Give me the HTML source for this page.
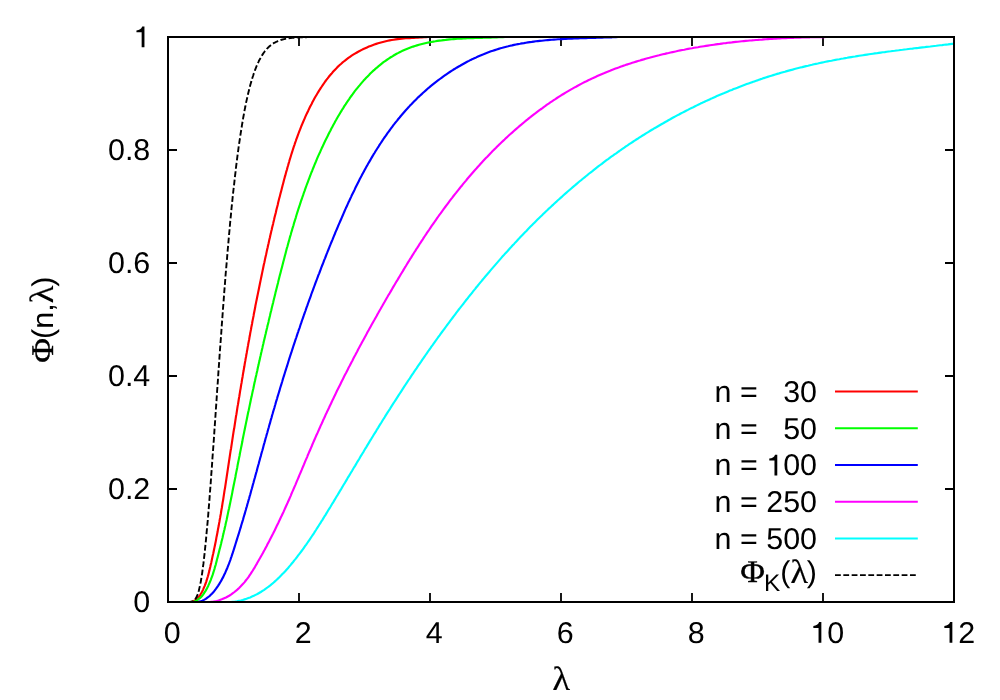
<!DOCTYPE html>
<html><head><meta charset="utf-8"><title>plot</title>
<style>html,body{margin:0;padding:0;background:#fff}svg{display:block}text{font-family:"Liberation Sans",sans-serif;font-size:30px;fill:#000;text-rendering:geometricPrecision;white-space:pre}.sym{font-family:"Liberation Serif",serif;stroke:#000;stroke-width:0.4px}.lam{stroke-width:0.12px}</style></head><body>
<svg width="1000" height="700" viewBox="0 0 1000 700" style="will-change:transform">
<path d="M299.0 602.0 V593.0 M299.0 37.0 V46.0 M430.0 602.0 V593.0 M430.0 37.0 V46.0 M561.0 602.0 V593.0 M561.0 37.0 V46.0 M692.0 602.0 V593.0 M692.0 37.0 V46.0 M823.0 602.0 V593.0 M823.0 37.0 V46.0 M168.0 489.0 H177.0 M954.0 489.0 H945.0 M168.0 376.0 H177.0 M954.0 376.0 H945.0 M168.0 263.0 H177.0 M954.0 263.0 H945.0 M168.0 150.0 H177.0 M954.0 150.0 H945.0 " stroke="#000" stroke-width="1.8" fill="none"/>
<clipPath id="box"><rect x="168.0" y="36.0" width="786.0" height="567.0"/></clipPath>
<g fill="none" stroke-width="2.15" stroke-linejoin="round" stroke-linecap="butt" clip-path="url(#box)">
<path d="M190.6 602.0 L192.6 601.6 L194.4 600.8 L196.0 599.7 L197.6 598.3 L198.9 596.8 L200.1 595.1 L201.2 593.3 L202.2 591.5 L203.1 589.6 L203.9 587.7 L204.7 585.8 L205.4 584.0 L206.1 582.1 L206.7 580.1 L207.3 578.2 L207.9 576.3 L208.4 574.4 L208.9 572.5 L209.4 570.6 L209.8 568.7 L210.3 566.7 L210.7 564.8 L211.2 562.9 L211.6 561.0 L212.0 559.0 L212.4 557.1 L212.8 555.2 L213.3 553.2 L213.7 551.3 L214.1 549.3 L214.5 547.4 L214.9 545.5 L215.3 543.5 L215.7 541.6 L216.1 539.6 L216.4 537.6 L216.8 535.7 L217.2 533.7 L217.6 531.8 L217.9 529.8 L218.3 527.8 L218.7 525.8 L219.0 523.9 L219.4 521.9 L219.7 519.9 L220.1 517.9 L220.4 516.0 L220.8 514.0 L221.1 512.0 L221.4 510.0 L221.8 508.0 L222.1 506.0 L222.4 504.1 L222.7 502.1 L223.1 500.1 L223.4 498.1 L223.7 496.1 L224.0 494.1 L224.3 492.1 L224.6 490.1 L225.0 488.1 L225.3 486.1 L225.6 484.1 L225.9 482.1 L226.2 480.1 L226.5 478.1 L226.8 476.1 L227.1 474.1 L227.4 472.1 L227.7 470.1 L228.0 468.1 L228.3 466.1 L228.6 464.1 L228.9 462.1 L229.2 460.1 L229.5 458.1 L229.8 456.2 L230.1 454.2 L230.4 452.2 L230.7 450.2 L231.1 448.2 L231.4 446.2 L231.7 444.2 L232.0 442.2 L232.3 440.2 L232.6 438.2 L232.9 436.2 L233.2 434.2 L233.5 432.2 L233.8 430.3 L234.2 428.3 L234.5 426.3 L234.8 424.3 L235.1 422.3 L235.4 420.3 L235.7 418.3 L236.0 416.3 L236.4 414.4 L236.7 412.4 L237.0 410.4 L237.3 408.4 L237.6 406.4 L238.0 404.4 L238.3 402.5 L238.6 400.5 L238.9 398.5 L239.3 396.5 L239.6 394.5 L239.9 392.6 L240.2 390.6 L240.6 388.6 L240.9 386.6 L241.2 384.6 L241.6 382.7 L241.9 380.7 L242.2 378.7 L242.6 376.7 L242.9 374.7 L243.2 372.8 L243.6 370.8 L243.9 368.8 L244.3 366.8 L244.6 364.9 L244.9 362.9 L245.3 360.9 L245.6 358.9 L246.0 357.0 L246.3 355.0 L246.7 353.0 L247.0 351.1 L247.4 349.1 L247.7 347.1 L248.1 345.2 L248.4 343.2 L248.8 341.2 L249.2 339.2 L249.5 337.3 L249.9 335.3 L250.2 333.3 L250.6 331.4 L251.0 329.4 L251.3 327.4 L251.7 325.5 L252.1 323.5 L252.4 321.5 L252.8 319.6 L253.2 317.6 L253.6 315.7 L253.9 313.7 L254.3 311.7 L254.7 309.8 L255.1 307.8 L255.4 305.8 L255.8 303.9 L256.2 301.9 L256.6 300.0 L257.0 298.0 L257.4 296.0 L257.8 294.1 L258.2 292.1 L258.6 290.2 L259.0 288.2 L259.4 286.3 L259.8 284.3 L260.2 282.3 L260.6 280.4 L261.0 278.4 L261.4 276.5 L261.8 274.5 L262.2 272.6 L262.6 270.6 L263.0 268.7 L263.4 266.7 L263.8 264.8 L264.3 262.8 L264.7 260.9 L265.1 258.9 L265.5 257.0 L266.0 255.0 L266.4 253.1 L266.8 251.1 L267.2 249.2 L267.7 247.2 L268.1 245.3 L268.6 243.3 L269.0 241.4 L269.4 239.4 L269.9 237.5 L270.3 235.5 L270.8 233.6 L271.2 231.6 L271.7 229.7 L272.1 227.7 L272.6 225.8 L273.1 223.9 L273.5 221.9 L274.0 220.0 L274.4 218.0 L274.9 216.1 L275.4 214.2 L275.9 212.2 L276.3 210.3 L276.8 208.3 L277.3 206.4 L277.8 204.5 L278.2 202.5 L278.7 200.6 L279.2 198.6 L279.7 196.7 L280.2 194.8 L280.7 192.8 L281.2 190.9 L281.7 189.0 L282.2 187.0 L282.7 185.1 L283.2 183.2 L283.7 181.2 L284.2 179.3 L284.7 177.4 L285.3 175.4 L285.8 173.5 L286.3 171.6 L286.9 169.7 L287.4 167.7 L288.0 165.8 L288.5 163.9 L289.1 162.0 L289.6 160.1 L290.2 158.2 L290.8 156.2 L291.4 154.3 L292.0 152.4 L292.6 150.5 L293.2 148.6 L293.8 146.7 L294.5 144.8 L295.1 142.9 L295.8 141.0 L296.4 139.1 L297.1 137.3 L297.8 135.4 L298.5 133.5 L299.2 131.6 L300.0 129.7 L300.7 127.9 L301.4 126.0 L302.2 124.1 L303.0 122.3 L303.8 120.4 L304.6 118.6 L305.4 116.7 L306.2 114.9 L307.1 113.0 L308.0 111.2 L308.8 109.4 L309.7 107.6 L310.6 105.7 L311.6 103.9 L312.5 102.1 L313.5 100.3 L314.4 98.6 L315.4 96.8 L316.5 95.0 L317.5 93.3 L318.5 91.6 L319.6 89.8 L320.7 88.1 L321.8 86.5 L322.9 84.8 L324.1 83.2 L325.2 81.5 L326.4 79.9 L327.6 78.4 L328.8 76.8 L330.1 75.3 L331.4 73.8 L332.6 72.3 L334.0 70.8 L335.3 69.4 L336.7 68.0 L338.0 66.6 L339.4 65.3 L340.9 64.0 L342.3 62.7 L343.8 61.5 L345.3 60.3 L346.8 59.1 L348.4 57.9 L350.0 56.8 L351.6 55.7 L353.2 54.7 L354.9 53.6 L356.5 52.7 L358.2 51.7 L360.0 50.8 L361.7 49.9 L363.4 49.0 L365.2 48.2 L367.0 47.4 L368.8 46.6 L370.6 45.9 L372.5 45.2 L374.3 44.5 L376.2 43.9 L378.1 43.3 L380.0 42.7 L381.9 42.2 L383.9 41.7 L385.8 41.2 L387.8 40.8 L389.7 40.4 L391.7 40.0 L393.7 39.7 L395.7 39.4 L397.7 39.1 L399.7 38.9 L401.7 38.7 L403.7 38.5 L405.7 38.3 L407.7 38.2 L409.8 38.1 L411.8 38.0 L413.8 37.9 L415.8 37.8 L417.9 37.7 L419.9 37.5 L421.9 37.4 L424.0 37.3 L426.0 37.2 L428.0 37.0" stroke="#ff0000"/>
<path d="M191.5 602.0 L193.6 601.7 L195.4 601.0 L197.2 600.1 L198.8 599.0 L200.4 597.7 L201.8 596.2 L203.1 594.6 L204.2 592.9 L205.4 591.1 L206.4 589.4 L207.4 587.5 L208.3 585.7 L209.1 583.8 L209.9 582.0 L210.7 580.1 L211.4 578.2 L212.1 576.3 L212.8 574.4 L213.4 572.4 L214.0 570.5 L214.6 568.6 L215.1 566.6 L215.7 564.7 L216.2 562.7 L216.7 560.8 L217.2 558.8 L217.7 556.9 L218.2 555.0 L218.7 553.0 L219.2 551.1 L219.7 549.1 L220.2 547.2 L220.7 545.2 L221.2 543.3 L221.6 541.3 L222.1 539.4 L222.6 537.5 L223.0 535.5 L223.5 533.6 L223.9 531.6 L224.4 529.7 L224.8 527.7 L225.3 525.8 L225.7 523.8 L226.1 521.9 L226.6 519.9 L227.0 518.0 L227.4 516.0 L227.8 514.1 L228.2 512.1 L228.6 510.2 L229.1 508.2 L229.5 506.3 L229.9 504.3 L230.3 502.4 L230.7 500.4 L231.1 498.5 L231.5 496.5 L231.9 494.6 L232.3 492.6 L232.6 490.7 L233.0 488.7 L233.4 486.8 L233.8 484.8 L234.2 482.9 L234.6 480.9 L235.0 479.0 L235.4 477.0 L235.7 475.0 L236.1 473.1 L236.5 471.1 L236.9 469.2 L237.3 467.2 L237.6 465.3 L238.0 463.3 L238.4 461.3 L238.8 459.4 L239.2 457.4 L239.6 455.5 L239.9 453.5 L240.3 451.6 L240.7 449.6 L241.1 447.6 L241.5 445.7 L241.9 443.7 L242.3 441.8 L242.6 439.8 L243.0 437.8 L243.4 435.9 L243.8 433.9 L244.2 431.9 L244.6 430.0 L245.0 428.0 L245.4 426.0 L245.8 424.1 L246.2 422.1 L246.6 420.2 L247.0 418.2 L247.4 416.2 L247.8 414.3 L248.2 412.3 L248.7 410.3 L249.1 408.4 L249.5 406.4 L249.9 404.4 L250.3 402.5 L250.7 400.5 L251.1 398.5 L251.6 396.6 L252.0 394.6 L252.4 392.6 L252.8 390.7 L253.3 388.7 L253.7 386.7 L254.1 384.8 L254.5 382.8 L255.0 380.8 L255.4 378.8 L255.8 376.9 L256.3 374.9 L256.7 372.9 L257.2 371.0 L257.6 369.0 L258.0 367.0 L258.5 365.1 L258.9 363.1 L259.4 361.1 L259.8 359.2 L260.2 357.2 L260.7 355.3 L261.1 353.3 L261.6 351.3 L262.0 349.4 L262.5 347.4 L262.9 345.4 L263.4 343.5 L263.8 341.5 L264.3 339.5 L264.8 337.6 L265.2 335.6 L265.7 333.7 L266.1 331.7 L266.6 329.7 L267.1 327.8 L267.5 325.8 L268.0 323.9 L268.5 321.9 L268.9 319.9 L269.4 318.0 L269.9 316.0 L270.3 314.1 L270.8 312.1 L271.3 310.2 L271.7 308.2 L272.2 306.3 L272.7 304.3 L273.2 302.4 L273.6 300.4 L274.1 298.5 L274.6 296.5 L275.1 294.6 L275.5 292.6 L276.0 290.7 L276.5 288.7 L277.0 286.8 L277.5 284.8 L278.0 282.9 L278.4 281.0 L278.9 279.0 L279.4 277.1 L279.9 275.1 L280.4 273.2 L280.9 271.3 L281.4 269.3 L281.9 267.4 L282.4 265.5 L282.9 263.5 L283.4 261.6 L283.9 259.7 L284.4 257.7 L284.9 255.8 L285.4 253.9 L285.9 252.0 L286.4 250.0 L286.9 248.1 L287.5 246.2 L288.0 244.3 L288.5 242.4 L289.1 240.4 L289.6 238.5 L290.1 236.6 L290.7 234.7 L291.2 232.8 L291.8 230.9 L292.3 229.0 L292.9 227.1 L293.5 225.2 L294.0 223.3 L294.6 221.4 L295.2 219.5 L295.8 217.6 L296.3 215.7 L296.9 213.8 L297.5 211.9 L298.1 210.0 L298.7 208.1 L299.4 206.2 L300.0 204.3 L300.6 202.4 L301.2 200.5 L301.9 198.7 L302.5 196.8 L303.2 194.9 L303.8 193.0 L304.5 191.1 L305.1 189.3 L305.8 187.4 L306.5 185.5 L307.2 183.7 L307.9 181.8 L308.6 179.9 L309.3 178.1 L310.0 176.2 L310.7 174.4 L311.4 172.5 L312.2 170.7 L312.9 168.8 L313.7 167.0 L314.4 165.1 L315.2 163.3 L316.0 161.4 L316.7 159.6 L317.5 157.7 L318.3 155.9 L319.1 154.1 L320.0 152.2 L320.8 150.4 L321.6 148.6 L322.5 146.8 L323.3 144.9 L324.2 143.1 L325.0 141.3 L325.9 139.5 L326.8 137.7 L327.7 135.9 L328.6 134.0 L329.5 132.2 L330.5 130.4 L331.4 128.6 L332.3 126.9 L333.3 125.1 L334.3 123.3 L335.2 121.5 L336.2 119.8 L337.2 118.0 L338.2 116.3 L339.3 114.5 L340.3 112.8 L341.3 111.1 L342.4 109.3 L343.5 107.6 L344.5 105.9 L345.6 104.3 L346.7 102.6 L347.9 100.9 L349.0 99.3 L350.1 97.6 L351.3 96.0 L352.5 94.4 L353.6 92.8 L354.8 91.2 L356.0 89.7 L357.3 88.1 L358.5 86.6 L359.8 85.1 L361.0 83.6 L362.3 82.1 L363.6 80.6 L364.9 79.2 L366.2 77.8 L367.6 76.4 L369.0 75.0 L370.3 73.6 L371.7 72.2 L373.1 70.9 L374.6 69.6 L376.0 68.3 L377.5 67.1 L379.0 65.8 L380.5 64.6 L382.0 63.4 L383.5 62.2 L385.1 61.1 L386.7 60.0 L388.3 58.9 L389.9 57.8 L391.6 56.8 L393.2 55.8 L394.9 54.8 L396.6 53.8 L398.4 52.9 L400.1 52.0 L401.9 51.1 L403.7 50.3 L405.5 49.5 L407.4 48.7 L409.2 48.0 L411.1 47.3 L413.1 46.6 L415.0 46.0 L417.0 45.4 L419.0 44.8 L421.0 44.2 L423.0 43.7 L425.1 43.2 L427.1 42.8 L429.2 42.4 L431.2 42.0 L433.3 41.6 L435.4 41.3 L437.4 40.9 L439.5 40.6 L441.6 40.4 L443.6 40.1 L445.7 39.9 L447.7 39.6 L449.7 39.4 L451.7 39.3 L453.7 39.1 L455.7 38.9 L457.6 38.8 L459.6 38.7 L461.5 38.6 L463.5 38.5 L465.4 38.4 L467.3 38.3 L469.2 38.2 L471.2 38.1 L473.1 38.1 L475.0 38.0 L476.9 37.9 L478.9 37.9 L480.8 37.8 L482.7 37.8 L484.7 37.7 L486.7 37.7 L488.6 37.6 L490.6 37.6 L492.6 37.5 L494.6 37.4 L496.7 37.4 L498.7 37.3 L500.8 37.2 L502.9 37.1 L505.0 37.0" stroke="#00ff00"/>
<path d="M196.5 602.0 L198.5 601.8 L200.4 601.4 L202.3 600.7 L204.0 599.9 L205.8 598.9 L207.4 597.7 L209.0 596.5 L210.5 595.1 L211.9 593.7 L213.3 592.2 L214.6 590.6 L215.9 588.9 L217.0 587.3 L218.2 585.6 L219.3 583.9 L220.3 582.2 L221.4 580.4 L222.3 578.6 L223.3 576.9 L224.1 575.0 L225.0 573.2 L225.8 571.4 L226.6 569.5 L227.4 567.7 L228.1 565.8 L228.9 563.9 L229.6 562.0 L230.3 560.1 L230.9 558.2 L231.6 556.3 L232.2 554.4 L232.9 552.4 L233.5 550.5 L234.1 548.6 L234.7 546.6 L235.3 544.7 L235.9 542.8 L236.5 540.9 L237.1 538.9 L237.7 537.0 L238.3 535.1 L238.9 533.2 L239.5 531.2 L240.1 529.3 L240.7 527.4 L241.2 525.5 L241.8 523.5 L242.4 521.6 L243.0 519.7 L243.5 517.7 L244.1 515.8 L244.7 513.9 L245.2 512.0 L245.8 510.0 L246.3 508.1 L246.9 506.2 L247.4 504.2 L248.0 502.3 L248.5 500.4 L249.1 498.5 L249.6 496.5 L250.2 494.6 L250.7 492.7 L251.2 490.7 L251.8 488.8 L252.3 486.9 L252.8 485.0 L253.4 483.0 L253.9 481.1 L254.4 479.2 L255.0 477.3 L255.5 475.3 L256.0 473.4 L256.6 471.5 L257.1 469.5 L257.6 467.6 L258.1 465.7 L258.7 463.8 L259.2 461.8 L259.7 459.9 L260.2 458.0 L260.8 456.1 L261.3 454.1 L261.8 452.2 L262.4 450.3 L262.9 448.4 L263.4 446.5 L263.9 444.5 L264.5 442.6 L265.0 440.7 L265.5 438.8 L266.1 436.8 L266.6 434.9 L267.2 433.0 L267.7 431.1 L268.2 429.2 L268.8 427.2 L269.3 425.3 L269.9 423.4 L270.4 421.5 L270.9 419.6 L271.5 417.7 L272.0 415.7 L272.6 413.8 L273.1 411.9 L273.7 410.0 L274.3 408.1 L274.8 406.2 L275.4 404.3 L275.9 402.3 L276.5 400.4 L277.1 398.5 L277.6 396.6 L278.2 394.7 L278.8 392.8 L279.4 390.9 L279.9 389.0 L280.5 387.0 L281.1 385.1 L281.7 383.2 L282.3 381.3 L282.8 379.4 L283.4 377.5 L284.0 375.6 L284.6 373.7 L285.2 371.8 L285.8 369.9 L286.4 368.0 L287.0 366.1 L287.6 364.2 L288.2 362.2 L288.8 360.3 L289.4 358.4 L290.0 356.5 L290.6 354.6 L291.3 352.7 L291.9 350.8 L292.5 348.9 L293.1 347.0 L293.7 345.1 L294.4 343.2 L295.0 341.3 L295.6 339.4 L296.3 337.5 L296.9 335.6 L297.5 333.7 L298.2 331.8 L298.8 329.9 L299.5 328.1 L300.1 326.2 L300.7 324.3 L301.4 322.4 L302.0 320.5 L302.7 318.6 L303.4 316.7 L304.0 314.8 L304.7 312.9 L305.4 311.0 L306.0 309.1 L306.7 307.2 L307.4 305.4 L308.0 303.5 L308.7 301.6 L309.4 299.7 L310.1 297.8 L310.8 295.9 L311.4 294.0 L312.1 292.1 L312.8 290.3 L313.5 288.4 L314.2 286.5 L314.9 284.6 L315.6 282.7 L316.3 280.9 L317.0 279.0 L317.7 277.1 L318.4 275.2 L319.2 273.3 L319.9 271.5 L320.6 269.6 L321.3 267.7 L322.0 265.8 L322.8 264.0 L323.5 262.1 L324.2 260.2 L325.0 258.3 L325.7 256.5 L326.4 254.6 L327.2 252.7 L327.9 250.9 L328.7 249.0 L329.4 247.1 L330.2 245.2 L330.9 243.4 L331.7 241.5 L332.5 239.6 L333.2 237.8 L334.0 235.9 L334.8 234.0 L335.5 232.2 L336.3 230.3 L337.1 228.5 L337.9 226.6 L338.7 224.7 L339.5 222.9 L340.3 221.0 L341.1 219.2 L341.9 217.3 L342.7 215.5 L343.5 213.6 L344.3 211.8 L345.1 209.9 L345.9 208.1 L346.8 206.3 L347.6 204.4 L348.4 202.6 L349.3 200.8 L350.1 199.0 L351.0 197.1 L351.8 195.3 L352.7 193.5 L353.6 191.7 L354.5 189.9 L355.3 188.1 L356.2 186.3 L357.1 184.5 L358.0 182.7 L358.9 180.9 L359.8 179.1 L360.8 177.3 L361.7 175.6 L362.6 173.8 L363.6 172.0 L364.5 170.3 L365.5 168.5 L366.4 166.8 L367.4 165.1 L368.4 163.3 L369.4 161.6 L370.4 159.9 L371.4 158.1 L372.4 156.4 L373.4 154.7 L374.5 153.0 L375.5 151.3 L376.5 149.7 L377.6 148.0 L378.7 146.3 L379.7 144.6 L380.8 143.0 L381.9 141.3 L383.0 139.7 L384.1 138.0 L385.3 136.4 L386.4 134.8 L387.5 133.2 L388.7 131.6 L389.9 130.0 L391.0 128.4 L392.2 126.8 L393.4 125.2 L394.6 123.7 L395.8 122.1 L397.1 120.6 L398.3 119.0 L399.6 117.5 L400.8 116.0 L402.1 114.5 L403.4 113.0 L404.7 111.5 L406.0 110.0 L407.4 108.5 L408.7 107.1 L410.0 105.6 L411.4 104.2 L412.8 102.7 L414.2 101.3 L415.6 99.9 L417.0 98.5 L418.4 97.1 L419.9 95.7 L421.4 94.4 L422.8 93.0 L424.3 91.7 L425.8 90.4 L427.3 89.0 L428.9 87.7 L430.4 86.4 L431.9 85.2 L433.5 83.9 L435.1 82.6 L436.7 81.4 L438.3 80.2 L439.9 79.0 L441.5 77.8 L443.1 76.6 L444.8 75.4 L446.4 74.3 L448.1 73.1 L449.8 72.0 L451.5 70.9 L453.2 69.8 L454.9 68.8 L456.6 67.7 L458.3 66.7 L460.1 65.7 L461.8 64.7 L463.6 63.7 L465.4 62.7 L467.1 61.8 L468.9 60.9 L470.7 59.9 L472.5 59.1 L474.3 58.2 L476.2 57.4 L478.0 56.5 L479.8 55.7 L481.7 54.9 L483.5 54.2 L485.4 53.4 L487.2 52.7 L489.1 52.0 L491.0 51.3 L492.9 50.7 L494.8 50.1 L496.7 49.5 L498.6 48.9 L500.5 48.3 L502.4 47.8 L504.4 47.2 L506.3 46.7 L508.2 46.3 L510.2 45.8 L512.1 45.4 L514.1 44.9 L516.0 44.5 L518.0 44.1 L520.0 43.8 L521.9 43.4 L523.9 43.1 L525.9 42.7 L527.9 42.4 L529.8 42.1 L531.8 41.9 L533.8 41.6 L535.8 41.3 L537.8 41.1 L539.8 40.9 L541.8 40.7 L543.8 40.5 L545.8 40.3 L547.8 40.1 L549.8 39.9 L551.9 39.8 L553.9 39.6 L555.9 39.5 L557.9 39.3 L559.9 39.2 L561.9 39.1 L564.0 39.0 L566.0 38.9 L568.0 38.8 L570.0 38.7 L572.0 38.6 L574.0 38.5 L576.1 38.4 L578.1 38.4 L580.1 38.3 L582.1 38.2 L584.1 38.2 L586.1 38.1 L588.1 38.0 L590.1 38.0 L592.1 37.9 L594.2 37.8 L596.2 37.8 L598.2 37.7 L600.2 37.7 L602.1 37.6 L604.1 37.5 L606.1 37.5 L608.1 37.4 L610.1 37.3 L612.1 37.3 L614.1 37.2 L616.0 37.1 L618.0 37.0" stroke="#0000ff"/>
<path d="M206.5 602.0 L208.5 602.0 L210.6 601.9 L212.6 601.7 L214.6 601.4 L216.6 601.0 L218.5 600.5 L220.5 599.8 L222.4 599.1 L224.2 598.3 L226.0 597.5 L227.8 596.5 L229.6 595.5 L231.3 594.4 L232.9 593.2 L234.5 592.0 L236.1 590.7 L237.6 589.4 L239.1 588.0 L240.5 586.6 L241.9 585.1 L243.3 583.6 L244.6 582.1 L245.8 580.5 L247.1 578.9 L248.3 577.3 L249.4 575.6 L250.6 573.9 L251.7 572.2 L252.8 570.5 L253.8 568.8 L254.9 567.1 L255.9 565.3 L256.9 563.6 L257.9 561.8 L258.9 560.0 L259.9 558.3 L260.9 556.5 L261.9 554.8 L262.9 553.0 L263.8 551.2 L264.8 549.5 L265.7 547.7 L266.7 545.9 L267.6 544.1 L268.5 542.4 L269.5 540.6 L270.4 538.8 L271.3 537.0 L272.2 535.2 L273.1 533.5 L274.0 531.7 L274.9 529.9 L275.8 528.1 L276.6 526.3 L277.5 524.5 L278.4 522.7 L279.2 520.9 L280.1 519.1 L280.9 517.3 L281.8 515.5 L282.6 513.7 L283.5 511.9 L284.3 510.1 L285.1 508.3 L285.9 506.5 L286.7 504.7 L287.6 502.8 L288.4 501.0 L289.2 499.2 L290.0 497.4 L290.8 495.6 L291.5 493.7 L292.3 491.9 L293.1 490.1 L293.9 488.3 L294.7 486.4 L295.5 484.6 L296.2 482.8 L297.0 480.9 L297.8 479.1 L298.6 477.3 L299.3 475.4 L300.1 473.6 L300.9 471.8 L301.7 469.9 L302.4 468.1 L303.2 466.3 L304.0 464.4 L304.7 462.6 L305.5 460.7 L306.3 458.9 L307.1 457.1 L307.8 455.2 L308.6 453.4 L309.4 451.5 L310.2 449.7 L311.0 447.9 L311.8 446.0 L312.5 444.2 L313.3 442.4 L314.1 440.5 L314.9 438.7 L315.7 436.8 L316.5 435.0 L317.4 433.2 L318.2 431.3 L319.0 429.5 L319.8 427.7 L320.6 425.8 L321.5 424.0 L322.3 422.2 L323.1 420.3 L324.0 418.5 L324.8 416.7 L325.6 414.8 L326.5 413.0 L327.3 411.2 L328.2 409.4 L329.1 407.5 L329.9 405.7 L330.8 403.9 L331.7 402.1 L332.5 400.2 L333.4 398.4 L334.3 396.6 L335.2 394.8 L336.0 392.9 L336.9 391.1 L337.8 389.3 L338.7 387.5 L339.6 385.7 L340.5 383.9 L341.4 382.0 L342.3 380.2 L343.2 378.4 L344.1 376.6 L345.0 374.8 L346.0 373.0 L346.9 371.2 L347.8 369.4 L348.7 367.6 L349.7 365.8 L350.6 364.0 L351.5 362.2 L352.5 360.4 L353.4 358.6 L354.3 356.8 L355.3 355.0 L356.2 353.2 L357.2 351.4 L358.1 349.6 L359.1 347.8 L360.0 346.1 L361.0 344.3 L361.9 342.5 L362.9 340.7 L363.9 338.9 L364.8 337.2 L365.8 335.4 L366.8 333.6 L367.7 331.8 L368.7 330.1 L369.7 328.3 L370.7 326.5 L371.6 324.8 L372.6 323.0 L373.6 321.2 L374.6 319.5 L375.6 317.7 L376.6 316.0 L377.5 314.2 L378.5 312.5 L379.5 310.7 L380.5 309.0 L381.5 307.2 L382.5 305.5 L383.5 303.7 L384.5 302.0 L385.5 300.2 L386.5 298.5 L387.5 296.8 L388.5 295.0 L389.6 293.3 L390.6 291.6 L391.6 289.9 L392.6 288.1 L393.6 286.4 L394.6 284.7 L395.6 283.0 L396.6 281.3 L397.7 279.6 L398.7 277.9 L399.7 276.2 L400.7 274.5 L401.8 272.7 L402.8 271.1 L403.8 269.4 L404.8 267.7 L405.9 266.0 L406.9 264.3 L407.9 262.6 L409.0 260.9 L410.0 259.2 L411.1 257.6 L412.1 255.9 L413.2 254.2 L414.2 252.5 L415.3 250.9 L416.3 249.2 L417.4 247.6 L418.5 245.9 L419.5 244.2 L420.6 242.6 L421.7 240.9 L422.8 239.3 L423.8 237.6 L424.9 236.0 L426.0 234.4 L427.1 232.7 L428.2 231.1 L429.3 229.5 L430.4 227.8 L431.5 226.2 L432.6 224.6 L433.8 223.0 L434.9 221.4 L436.0 219.8 L437.1 218.2 L438.3 216.5 L439.4 214.9 L440.6 213.4 L441.7 211.8 L442.9 210.2 L444.0 208.6 L445.2 207.0 L446.4 205.4 L447.6 203.8 L448.7 202.3 L449.9 200.7 L451.1 199.1 L452.3 197.6 L453.5 196.0 L454.8 194.4 L456.0 192.9 L457.2 191.3 L458.4 189.8 L459.7 188.2 L460.9 186.7 L462.2 185.2 L463.4 183.6 L464.7 182.1 L466.0 180.6 L467.2 179.0 L468.5 177.5 L469.8 176.0 L471.1 174.5 L472.4 173.0 L473.7 171.5 L475.0 170.0 L476.4 168.5 L477.7 167.0 L479.1 165.5 L480.4 164.0 L481.8 162.5 L483.1 161.1 L484.5 159.6 L485.9 158.1 L487.3 156.7 L488.7 155.2 L490.1 153.7 L491.5 152.3 L492.9 150.8 L494.3 149.4 L495.8 148.0 L497.2 146.5 L498.7 145.1 L500.1 143.7 L501.6 142.3 L503.1 140.9 L504.6 139.5 L506.0 138.1 L507.5 136.7 L509.0 135.3 L510.5 134.0 L512.1 132.6 L513.6 131.2 L515.1 129.9 L516.6 128.6 L518.2 127.2 L519.7 125.9 L521.3 124.6 L522.8 123.3 L524.4 122.0 L526.0 120.7 L527.6 119.4 L529.1 118.1 L530.7 116.9 L532.3 115.6 L533.9 114.3 L535.6 113.1 L537.2 111.9 L538.8 110.7 L540.4 109.5 L542.1 108.3 L543.7 107.1 L545.4 105.9 L547.0 104.7 L548.7 103.6 L550.3 102.4 L552.0 101.3 L553.7 100.2 L555.4 99.1 L557.0 98.0 L558.7 96.9 L560.4 95.8 L562.1 94.7 L563.8 93.7 L565.6 92.6 L567.3 91.6 L569.0 90.6 L570.7 89.6 L572.5 88.6 L574.2 87.6 L576.0 86.7 L577.7 85.7 L579.5 84.8 L581.2 83.9 L583.0 82.9 L584.7 82.0 L586.5 81.2 L588.3 80.3 L590.1 79.4 L591.9 78.6 L593.7 77.7 L595.5 76.9 L597.3 76.1 L599.1 75.3 L600.9 74.5 L602.7 73.7 L604.5 73.0 L606.3 72.2 L608.2 71.5 L610.0 70.8 L611.8 70.0 L613.7 69.3 L615.5 68.6 L617.4 67.9 L619.2 67.3 L621.1 66.6 L622.9 65.9 L624.8 65.3 L626.7 64.6 L628.6 64.0 L630.4 63.4 L632.3 62.8 L634.2 62.2 L636.1 61.6 L638.0 61.0 L639.9 60.5 L641.8 59.9 L643.7 59.4 L645.6 58.8 L647.5 58.3 L649.4 57.8 L651.3 57.2 L653.2 56.7 L655.1 56.2 L657.1 55.7 L659.0 55.3 L660.9 54.8 L662.8 54.3 L664.8 53.9 L666.7 53.4 L668.6 53.0 L670.6 52.5 L672.5 52.1 L674.5 51.7 L676.4 51.3 L678.4 50.8 L680.3 50.4 L682.3 50.0 L684.3 49.7 L686.2 49.3 L688.2 48.9 L690.1 48.5 L692.1 48.2 L694.1 47.8 L696.0 47.5 L698.0 47.2 L700.0 46.8 L702.0 46.5 L704.0 46.2 L705.9 45.9 L707.9 45.6 L709.9 45.3 L711.9 45.0 L713.9 44.7 L715.9 44.4 L717.8 44.1 L719.8 43.9 L721.8 43.6 L723.8 43.3 L725.8 43.1 L727.8 42.8 L729.8 42.6 L731.8 42.4 L733.8 42.1 L735.8 41.9 L737.8 41.7 L739.8 41.5 L741.8 41.3 L743.8 41.1 L745.8 40.9 L747.8 40.7 L749.8 40.5 L751.8 40.4 L753.9 40.2 L755.9 40.0 L757.9 39.9 L759.9 39.7 L761.9 39.6 L763.9 39.4 L765.9 39.3 L767.9 39.1 L769.9 39.0 L771.9 38.9 L773.9 38.7 L775.9 38.6 L778.0 38.5 L780.0 38.4 L782.0 38.3 L784.0 38.2 L786.0 38.1 L788.0 38.0 L790.0 37.9 L792.0 37.8 L794.0 37.8 L796.0 37.7 L798.0 37.6 L800.0 37.6 L802.0 37.5 L804.0 37.4 L806.0 37.4 L808.0 37.3 L810.0 37.3 L812.0 37.2 L814.0 37.2 L816.0 37.2 L818.0 37.1 L820.0 37.1 L822.0 37.1 L824.0 37.1 L826.0 37.0 L828.0 37.0 L830.0 37.0" stroke="#ff00ff"/>
<path d="M228.8 602.0 L230.9 602.0 L232.9 601.8 L234.9 601.6 L236.9 601.3 L238.9 600.9 L240.8 600.5 L242.7 600.0 L244.6 599.4 L246.5 598.8 L248.4 598.1 L250.2 597.4 L252.0 596.6 L253.8 595.8 L255.6 594.9 L257.4 594.0 L259.1 593.0 L260.8 592.0 L262.5 590.9 L264.2 589.8 L265.8 588.7 L267.4 587.5 L269.0 586.3 L270.6 585.1 L272.1 583.8 L273.7 582.5 L275.2 581.1 L276.7 579.8 L278.1 578.4 L279.6 577.0 L281.0 575.6 L282.4 574.1 L283.8 572.7 L285.2 571.2 L286.5 569.7 L287.9 568.2 L289.2 566.6 L290.5 565.1 L291.8 563.5 L293.1 562.0 L294.3 560.4 L295.6 558.9 L296.8 557.3 L298.0 555.7 L299.2 554.2 L300.4 552.6 L301.6 551.0 L302.8 549.4 L303.9 547.8 L305.0 546.2 L306.2 544.6 L307.3 543.0 L308.4 541.4 L309.5 539.8 L310.6 538.2 L311.7 536.5 L312.8 534.9 L313.9 533.3 L314.9 531.6 L316.0 530.0 L317.0 528.3 L318.1 526.7 L319.1 525.0 L320.2 523.4 L321.2 521.7 L322.3 520.1 L323.3 518.4 L324.3 516.7 L325.4 515.1 L326.4 513.4 L327.4 511.7 L328.4 510.0 L329.5 508.3 L330.5 506.7 L331.5 505.0 L332.5 503.3 L333.6 501.6 L334.6 499.9 L335.6 498.2 L336.6 496.5 L337.7 494.8 L338.7 493.1 L339.7 491.4 L340.8 489.7 L341.8 487.9 L342.8 486.2 L343.8 484.5 L344.9 482.8 L345.9 481.1 L346.9 479.4 L347.9 477.6 L349.0 475.9 L350.0 474.2 L351.0 472.5 L352.1 470.8 L353.1 469.0 L354.1 467.3 L355.2 465.6 L356.2 463.9 L357.2 462.1 L358.3 460.4 L359.3 458.7 L360.3 456.9 L361.4 455.2 L362.4 453.5 L363.5 451.8 L364.5 450.0 L365.5 448.3 L366.6 446.6 L367.6 444.9 L368.7 443.1 L369.7 441.4 L370.8 439.7 L371.8 438.0 L372.9 436.2 L373.9 434.5 L375.0 432.8 L376.1 431.1 L377.1 429.3 L378.2 427.6 L379.2 425.9 L380.3 424.2 L381.4 422.5 L382.4 420.8 L383.5 419.0 L384.6 417.3 L385.6 415.6 L386.7 413.9 L387.8 412.2 L388.9 410.5 L390.0 408.8 L391.0 407.1 L392.1 405.4 L393.2 403.7 L394.3 402.0 L395.4 400.3 L396.5 398.6 L397.6 396.9 L398.7 395.2 L399.8 393.5 L400.9 391.8 L402.0 390.1 L403.1 388.4 L404.2 386.7 L405.3 385.0 L406.4 383.3 L407.5 381.7 L408.6 380.0 L409.8 378.3 L410.9 376.6 L412.0 374.9 L413.1 373.3 L414.2 371.6 L415.4 369.9 L416.5 368.3 L417.6 366.6 L418.8 364.9 L419.9 363.3 L421.1 361.6 L422.2 359.9 L423.3 358.3 L424.5 356.6 L425.6 355.0 L426.8 353.3 L427.9 351.7 L429.1 350.0 L430.3 348.4 L431.4 346.7 L432.6 345.1 L433.8 343.4 L434.9 341.8 L436.1 340.2 L437.3 338.5 L438.4 336.9 L439.6 335.3 L440.8 333.6 L442.0 332.0 L443.2 330.4 L444.4 328.8 L445.6 327.2 L446.8 325.5 L448.0 323.9 L449.2 322.3 L450.4 320.7 L451.6 319.1 L452.8 317.5 L454.0 315.9 L455.2 314.3 L456.4 312.7 L457.6 311.1 L458.8 309.5 L460.1 307.9 L461.3 306.3 L462.5 304.8 L463.8 303.2 L465.0 301.6 L466.2 300.0 L467.5 298.5 L468.7 296.9 L470.0 295.3 L471.2 293.8 L472.5 292.2 L473.7 290.6 L475.0 289.1 L476.2 287.5 L477.5 286.0 L478.8 284.4 L480.0 282.9 L481.3 281.4 L482.6 279.8 L483.8 278.3 L485.1 276.7 L486.4 275.2 L487.7 273.7 L489.0 272.2 L490.3 270.6 L491.6 269.1 L492.9 267.6 L494.2 266.1 L495.5 264.6 L496.8 263.1 L498.1 261.6 L499.4 260.1 L500.7 258.6 L502.0 257.1 L503.4 255.6 L504.7 254.1 L506.0 252.7 L507.4 251.2 L508.7 249.7 L510.0 248.2 L511.4 246.8 L512.7 245.3 L514.1 243.9 L515.4 242.4 L516.8 241.0 L518.1 239.5 L519.5 238.1 L520.9 236.6 L522.2 235.2 L523.6 233.7 L525.0 232.3 L526.4 230.9 L527.7 229.5 L529.1 228.0 L530.5 226.6 L531.9 225.2 L533.3 223.8 L534.7 222.4 L536.1 221.0 L537.5 219.6 L538.9 218.2 L540.4 216.8 L541.8 215.5 L543.2 214.1 L544.6 212.7 L546.1 211.3 L547.5 210.0 L548.9 208.6 L550.4 207.3 L551.8 205.9 L553.3 204.6 L554.7 203.2 L556.2 201.9 L557.6 200.5 L559.1 199.2 L560.6 197.9 L562.1 196.6 L563.5 195.2 L565.0 193.9 L566.5 192.6 L568.0 191.3 L569.5 190.0 L571.0 188.7 L572.5 187.4 L574.0 186.1 L575.5 184.9 L577.0 183.6 L578.5 182.3 L580.0 181.0 L581.6 179.8 L583.1 178.5 L584.6 177.3 L586.2 176.0 L587.7 174.8 L589.2 173.5 L590.8 172.3 L592.4 171.1 L593.9 169.9 L595.5 168.6 L597.0 167.4 L598.6 166.2 L600.2 165.0 L601.8 163.8 L603.3 162.6 L604.9 161.4 L606.5 160.2 L608.1 159.1 L609.7 157.9 L611.3 156.7 L612.9 155.6 L614.5 154.4 L616.2 153.3 L617.8 152.1 L619.4 151.0 L621.0 149.8 L622.7 148.7 L624.3 147.6 L625.9 146.4 L627.6 145.3 L629.2 144.2 L630.9 143.1 L632.6 142.0 L634.2 140.9 L635.9 139.8 L637.6 138.8 L639.2 137.7 L640.9 136.6 L642.6 135.5 L644.3 134.5 L646.0 133.4 L647.7 132.4 L649.4 131.3 L651.1 130.3 L652.8 129.3 L654.5 128.2 L656.3 127.2 L658.0 126.2 L659.7 125.2 L661.4 124.2 L663.2 123.2 L664.9 122.2 L666.7 121.2 L668.4 120.2 L670.2 119.3 L671.9 118.3 L673.7 117.3 L675.4 116.4 L677.2 115.4 L679.0 114.5 L680.7 113.5 L682.5 112.6 L684.3 111.7 L686.1 110.8 L687.9 109.9 L689.7 108.9 L691.5 108.0 L693.3 107.2 L695.1 106.3 L696.9 105.4 L698.7 104.5 L700.5 103.6 L702.3 102.8 L704.1 101.9 L705.9 101.1 L707.8 100.2 L709.6 99.4 L711.4 98.6 L713.3 97.7 L715.1 96.9 L716.9 96.1 L718.8 95.3 L720.6 94.5 L722.5 93.7 L724.3 93.0 L726.2 92.2 L728.0 91.4 L729.9 90.6 L731.8 89.9 L733.6 89.1 L735.5 88.4 L737.4 87.7 L739.2 86.9 L741.1 86.2 L743.0 85.5 L744.9 84.8 L746.7 84.1 L748.6 83.4 L750.5 82.7 L752.4 82.1 L754.3 81.4 L756.2 80.7 L758.1 80.1 L760.0 79.4 L761.9 78.8 L763.8 78.1 L765.7 77.5 L767.6 76.9 L769.5 76.3 L771.4 75.7 L773.3 75.1 L775.3 74.5 L777.2 73.9 L779.1 73.4 L781.0 72.8 L782.9 72.2 L784.9 71.7 L786.8 71.1 L788.7 70.6 L790.6 70.1 L792.6 69.6 L794.5 69.0 L796.4 68.5 L798.4 68.0 L800.3 67.5 L802.3 67.1 L804.2 66.6 L806.1 66.1 L808.1 65.7 L810.0 65.2 L812.0 64.8 L813.9 64.3 L815.9 63.9 L817.8 63.5 L819.8 63.0 L821.7 62.6 L823.7 62.2 L825.6 61.8 L827.6 61.4 L829.6 61.0 L831.5 60.7 L833.5 60.3 L835.5 59.9 L837.4 59.5 L839.4 59.2 L841.3 58.8 L843.3 58.5 L845.3 58.1 L847.2 57.8 L849.2 57.4 L851.2 57.1 L853.2 56.8 L855.1 56.5 L857.1 56.1 L859.1 55.8 L861.1 55.5 L863.0 55.2 L865.0 54.9 L867.0 54.6 L869.0 54.3 L870.9 54.0 L872.9 53.7 L874.9 53.4 L876.9 53.2 L878.8 52.9 L880.8 52.6 L882.8 52.3 L884.8 52.1 L886.8 51.8 L888.7 51.5 L890.7 51.3 L892.7 51.0 L894.7 50.8 L896.7 50.5 L898.7 50.3 L900.6 50.0 L902.6 49.8 L904.6 49.5 L906.6 49.3 L908.6 49.0 L910.5 48.8 L912.5 48.6 L914.5 48.3 L916.5 48.1 L918.5 47.9 L920.4 47.6 L922.4 47.4 L924.4 47.2 L926.4 46.9 L928.4 46.7 L930.3 46.5 L932.3 46.2 L934.3 46.0 L936.3 45.8 L938.2 45.5 L940.2 45.3 L942.2 45.1 L944.2 44.8 L946.1 44.6 L948.1 44.4 L950.1 44.1 L952.0 43.9 L954.0 43.7" stroke="#00ffff"/>
<path d="M187.7 602.0 L188.3 602.0 L189.0 602.0 L189.6 601.9 L190.3 601.9 L190.9 601.8 L191.6 601.7 L192.2 601.5 L192.9 601.3 L193.5 600.9 L194.2 600.4 L194.9 599.8 L195.5 598.9 L196.2 597.8 L196.8 596.5 L197.5 594.9 L198.1 593.0 L198.8 590.7 L199.4 588.1 L200.1 585.0 L200.8 581.6 L201.4 577.8 L202.1 573.6 L202.7 568.9 L203.4 563.9 L204.0 558.4 L204.7 552.5 L205.3 546.3 L206.0 539.6 L206.6 532.6 L207.3 525.3 L208.0 517.7 L208.6 509.8 L209.3 501.6 L209.9 493.1 L210.6 484.5 L211.2 475.6 L211.9 466.6 L212.5 457.5 L213.2 448.2 L213.9 438.8 L214.5 429.4 L215.2 419.9 L215.8 410.4 L216.5 400.9 L217.1 391.3 L217.8 381.9 L218.4 372.4 L219.1 363.0 L219.7 353.7 L220.4 344.4 L221.1 335.3 L221.7 326.3 L222.4 317.3 L223.0 308.6 L223.7 299.9 L224.3 291.4 L225.0 283.0 L225.6 274.8 L226.3 266.8 L227.0 258.9 L227.6 251.2 L228.3 243.6 L228.9 236.3 L229.6 229.1 L230.2 222.0 L230.9 215.2 L231.5 208.5 L232.2 202.0 L232.8 195.7 L233.5 189.5 L234.2 183.6 L234.8 177.8 L235.5 172.2 L236.1 166.7 L236.8 161.4 L237.4 156.3 L238.1 151.3 L238.7 146.5 L239.4 141.9 L240.1 137.4 L240.7 133.1 L241.4 128.9 L242.0 124.9 L242.7 121.0 L243.3 117.2 L244.0 113.6 L244.6 110.1 L245.3 106.8 L245.9 103.5 L246.6 100.4 L247.3 97.4 L247.9 94.6 L248.6 91.8 L249.2 89.2 L249.9 86.6 L250.5 84.2 L251.2 81.9 L251.8 79.7 L252.5 77.5 L253.2 75.5 L253.8 73.5 L254.5 71.6 L255.1 69.9 L255.8 68.1 L256.4 66.5 L257.1 65.0 L257.7 63.5 L258.4 62.1 L259.0 60.7 L259.7 59.4 L260.4 58.2 L261.0 57.0 L261.7 55.9 L262.3 54.9 L263.0 53.9 L263.6 52.9 L264.3 52.0 L264.9 51.1 L265.6 50.3 L266.3 49.6 L266.9 48.8 L267.6 48.1 L268.2 47.5 L268.9 46.8 L269.5 46.3 L270.2 45.7 L270.8 45.2 L271.5 44.7 L272.1 44.2 L272.8 43.8 L273.5 43.3 L274.1 42.9 L274.8 42.6 L275.4 42.2 L276.1 41.9 L276.7 41.6 L277.4 41.3 L278.0 41.0 L278.7 40.7 L279.4 40.5 L280.0 40.3 L280.7 40.0 L281.3 39.8 L282.0 39.7 L282.6 39.5 L283.3 39.3 L283.9 39.1 L284.6 39.0 L285.2 38.9 L285.9 38.7 L286.6 38.6 L287.2 38.5 L287.9 38.4 L288.5 38.3 L289.2 38.2 L289.8 38.1 L290.5 38.0 L291.1 38.0 L291.8 37.9 L292.5 37.8 L293.1 37.8 L293.8 37.7 L294.4 37.7 L295.1 37.6 L295.7 37.6 L296.4 37.5 L297.0 37.5 L297.7 37.4 L298.3 37.4 L299.0 37.4 L299.7 37.3 L300.3 37.3 L301.0 37.3 L301.6 37.3 L302.3 37.3 L302.9 37.2 L303.6 37.2 L304.2 37.2 L304.9 37.2 L305.6 37.2 L306.2 37.2 L306.9 37.1 L307.5 37.1 L308.2 37.1 L308.8 37.1 L309.5 37.1 L310.1 37.1 L310.8 37.1 L311.4 37.1 L312.1 37.1" stroke="#000" stroke-width="1.9" stroke-dasharray="5.8 2.53"/>
</g>
<rect x="168.0" y="37.0" width="786.0" height="565.0" stroke="#000" stroke-width="2" fill="none"/>
<text transform="translate(133.37,612.20) scale(1.015,1)" style="font-size:30px">0</text>
<text transform="translate(107.97,499.20) scale(1.015,1)" style="font-size:30px">0.2</text>
<text transform="translate(107.97,386.20) scale(1.015,1)" style="font-size:30px">0.4</text>
<text transform="translate(107.97,273.20) scale(1.015,1)" style="font-size:30px">0.6</text>
<text transform="translate(107.97,160.20) scale(1.015,1)" style="font-size:30px">0.8</text>
<path d="M144.45 47.20 L141.65 47.20 L141.65 32.30 L136.45 32.30 L136.45 30.40 Q140.75 30.20 142.25 26.50 L144.45 26.50 Z" fill="#000"/>
<text transform="translate(163.73,642.80) scale(1.015,1)" style="font-size:30px">0</text>
<text transform="translate(294.73,642.80) scale(1.015,1)" style="font-size:30px">2</text>
<text transform="translate(425.73,642.80) scale(1.015,1)" style="font-size:30px">4</text>
<text transform="translate(556.73,642.80) scale(1.015,1)" style="font-size:30px">6</text>
<text transform="translate(687.73,642.80) scale(1.015,1)" style="font-size:30px">8</text>
<path d="M821.35 642.80 L818.55 642.80 L818.55 627.90 L813.35 627.90 L813.35 626.00 Q817.65 625.80 819.15 622.10 L821.35 622.10 Z" fill="#000"/><text transform="translate(827.20,642.80) scale(1.015,1)" style="font-size:30px">0</text>
<path d="M952.35 642.80 L949.55 642.80 L949.55 627.90 L944.35 627.90 L944.35 626.00 Q948.65 625.80 950.15 622.10 L952.35 622.10 Z" fill="#000"/><text transform="translate(958.20,642.80) scale(1.015,1)" style="font-size:30px">2</text>
<text class="sym lam" transform="translate(552.30,690.00) scale(1.23,1.12)">λ</text>
<g transform="translate(52.5,361.8) rotate(-90)"><text class="sym" transform="translate(-0.90,0.00) scale(1.125,1.05)">Φ</text><text transform="translate(22.90,0.00) scale(1.015,1)" style="font-size:30px">(n,</text><text class="sym lam" transform="translate(58.23,0.50) scale(1.23,1.12)">λ</text><text transform="translate(74.93,0.00) scale(1.015,1)" style="font-size:30px">)</text></g>
<text transform="translate(714.57,402.00) scale(1.015,1)" style="font-size:30px">n =   30</text>
<path d="M835 391.6 H917.8" stroke="#ff0000" stroke-width="2" fill="none"/>
<text transform="translate(714.57,438.70) scale(1.015,1)" style="font-size:30px">n =   50</text>
<path d="M835 428.3 H917.8" stroke="#00ff00" stroke-width="2" fill="none"/>
<text transform="translate(714.56,475.40) scale(1.015,1)" style="font-size:30px">n = </text><path d="M777.28 475.40 L774.48 475.40 L774.48 460.50 L769.28 460.50 L769.28 458.60 Q773.58 458.40 775.08 454.70 L777.28 454.70 Z" fill="#000"/><text transform="translate(783.13,475.40) scale(1.015,1)" style="font-size:30px">00</text>
<path d="M835 465.0 H917.8" stroke="#0000ff" stroke-width="2" fill="none"/>
<text transform="translate(714.56,512.10) scale(1.015,1)" style="font-size:30px">n = 250</text>
<path d="M835 501.7 H917.8" stroke="#ff00ff" stroke-width="2" fill="none"/>
<text transform="translate(714.56,548.80) scale(1.015,1)" style="font-size:30px">n = 500</text>
<path d="M835 538.4 H917.8" stroke="#00ffff" stroke-width="2" fill="none"/>
<text class="sym" transform="translate(740.17,582.00) scale(1.125,1.05)">Φ</text><text transform="translate(763.97,590.50) scale(1.015,1)" style="font-size:24px">K</text><text transform="translate(780.22,582.00) scale(1.015,1)" style="font-size:30px">(</text><text class="sym lam" transform="translate(790.16,582.50) scale(1.23,1.12)">λ</text><text transform="translate(806.86,582.00) scale(1.015,1)" style="font-size:30px">)</text>
<path d="M835 575.1 H917.8" stroke="#000" stroke-width="1.9" stroke-dasharray="5.8 2.53" fill="none"/>
</svg></body></html>
